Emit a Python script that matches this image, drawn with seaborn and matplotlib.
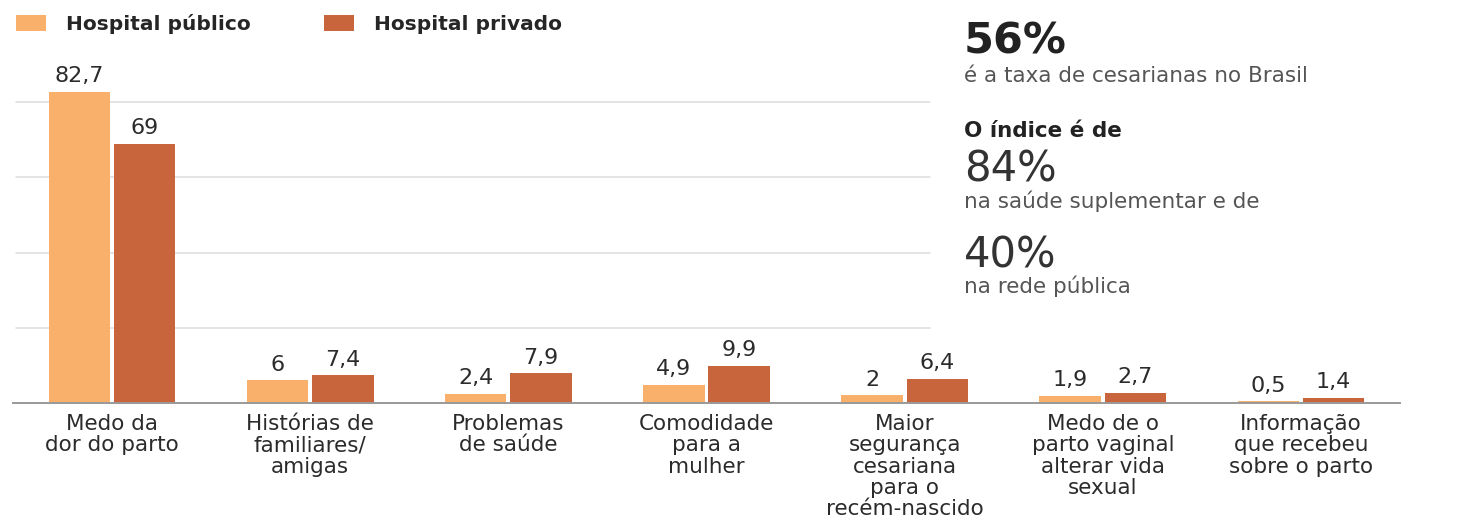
import matplotlib
matplotlib.use("Agg")
import matplotlib.pyplot as plt
import seaborn as sns
import pandas as pd

# Motivos para a escolha da cesariana (%)
categorias = [
    "Medo da\ndor do parto",
    "Histórias de\nfamiliares/\namigas",
    "Problemas\nde saúde",
    "Comodidade\npara a\nmulher",
    "Maior\nsegurança\ncesariana\npara o\nrecém-nascido",
    "Medo de o\nparto vaginal\nalterar vida\nsexual",
    "Informação\nque recebeu\nsobre o parto",
]
hospital_publico = [82.7, 6, 2.4, 4.9, 2, 1.9, 0.5]
hospital_privado = [69, 7.4, 7.9, 9.9, 6.4, 2.7, 1.4]
series = ["Hospital público", "Hospital privado"]
cores = ["#F8B06A", "#C9653D"]
grade_y = [20, 40, 60, 80]

df = pd.DataFrame({
    "motivo": categorias * 2,
    "valor": hospital_publico + hospital_privado,
    "hospital": [series[0]] * len(categorias) + [series[1]] * len(categorias),
})

sns.set_theme(style="white")
plt.rcParams["font.family"] = ["DejaVu Sans"]

fig = plt.figure(figsize=(14.58, 5.28), dpi=100)
ax = fig.add_axes([13 / 1458, 125 / 528, 1387 / 1458, 338.4 / 528])

sns.barplot(data=df, x="motivo", y="valor", hue="hospital", palette=cores,
            hue_order=series, order=categorias, width=0.66, gap=0.06,
            saturation=1, ax=ax, zorder=3, legend=True, linewidth=0)

ax.set_xlim(-0.5, len(categorias) - 0.5)
ax.set_ylim(0, 90)

# linhas de grade só na parte esquerda, antes do bloco de texto
for g in grade_y:
    ax.axhline(g, xmin=0.002, xmax=0.661, color="#dcdcdc", lw=1.1, zorder=1)


def fmt(v):
    s = f"{v:g}"
    return s.replace(".", ",")


for cont, vals in zip(ax.containers, [hospital_publico, hospital_privado]):
    ax.bar_label(cont, labels=[fmt(v) for v in vals], padding=4,
                 fontsize=16, color="#2b2b2b")

for s in ["top", "right", "left"]:
    ax.spines[s].set_visible(False)
ax.spines["bottom"].set_color("#999999")
ax.spines["bottom"].set_linewidth(1.4)
ax.spines["bottom"].set_zorder(4)
ax.set_yticks([])
ax.set_xlabel("")
ax.set_ylabel("")
ax.tick_params(axis="x", length=0, pad=8)
for lbl in ax.get_xticklabels():
    lbl.set_fontsize(15.5)
    lbl.set_color("#2b2b2b")
    lbl.set_linespacing(1.08)
    lbl.set_horizontalalignment("center")
    lbl.set_verticalalignment("top")

handles, labels = ax.get_legend_handles_labels()
ax.legend_.remove()
fig.legend(handles, labels, loc="upper left", bbox_to_anchor=(10 / 1458, 1 - 8 / 528),
           ncol=2, frameon=False, prop={"weight": "bold", "size": 14.5},
           handlelength=1.5, handleheight=0.85, handletextpad=1.0,
           columnspacing=3.6, borderaxespad=0, borderpad=0.3)

# bloco de texto à direita
x0 = 964 / 1458


def fy(px):
    return 1 - px / 528


fig.text(x0, fy(53), "56%", fontsize=31, fontweight="bold", color="#222222", va="baseline")
fig.text(x0, fy(82), "é a taxa de cesarianas no Brasil", fontsize=15.5, color="#555555", va="baseline")
fig.text(x0, fy(137), "O índice é de", fontsize=15.5, fontweight="bold", color="#222222", va="baseline")
fig.text(x0, fy(182), "84%", fontsize=30, color="#333333", va="baseline")
fig.text(x0, fy(208), "na saúde suplementar e de", fontsize=15.5, color="#555555", va="baseline")
fig.text(x0, fy(267), "40%", fontsize=30, color="#333333", va="baseline")
fig.text(x0, fy(293), "na rede pública", fontsize=15.5, color="#555555", va="baseline")

fig.savefig("out.png", dpi=100, facecolor="white")
